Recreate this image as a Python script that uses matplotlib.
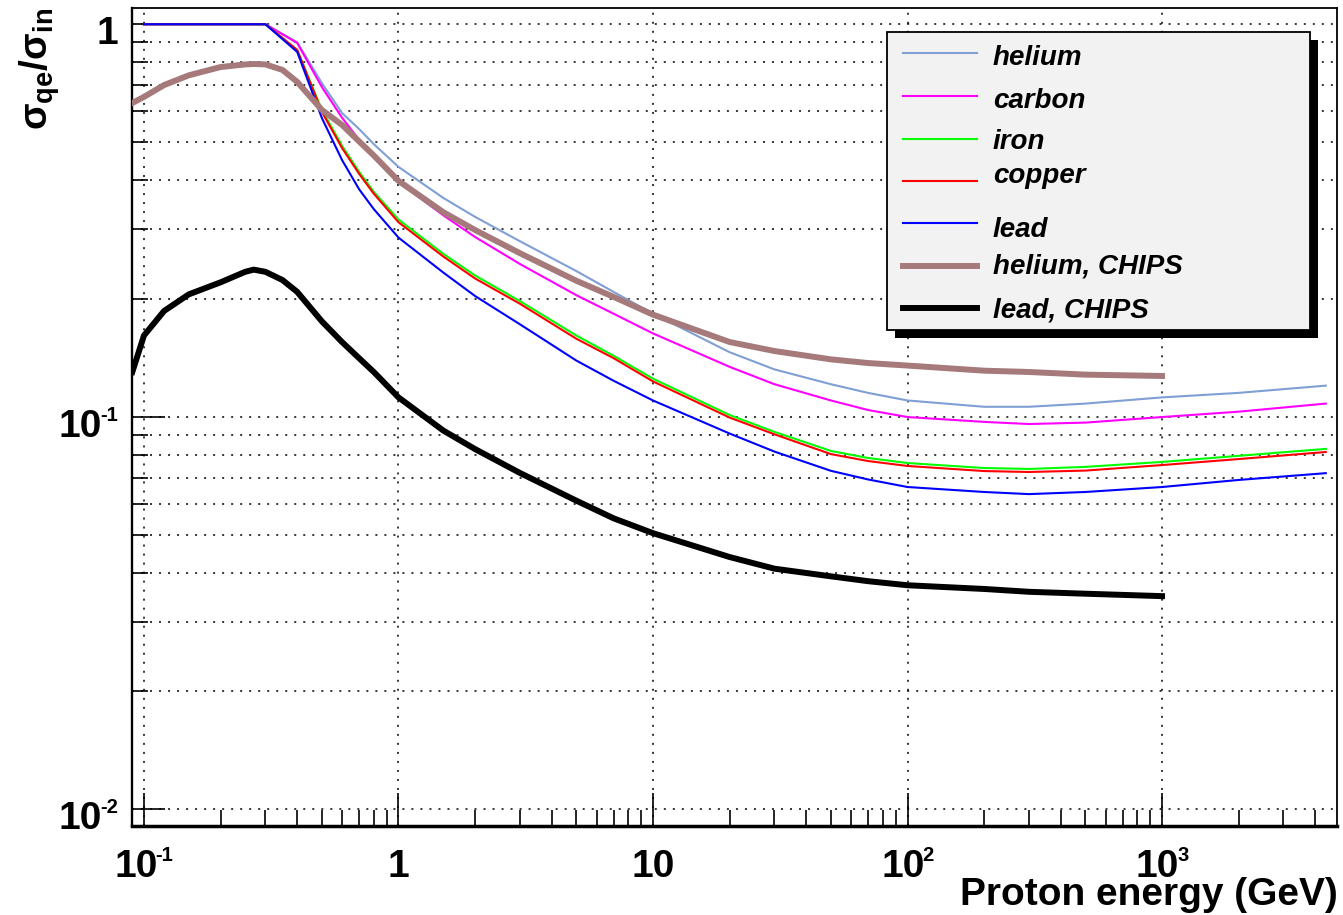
import numpy as np
import matplotlib
matplotlib.use("Agg")
import matplotlib.pyplot as plt
from matplotlib.lines import Line2D
from matplotlib.patches import Rectangle
from matplotlib.ticker import LogLocator, NullFormatter

plt.rcParams['font.family'] = ['Liberation Sans', 'DejaVu Sans']
plt.rcParams['mathtext.fontset'] = 'custom'
plt.rcParams['mathtext.rm'] = 'Liberation Sans:bold'
plt.rcParams['mathtext.bf'] = 'Liberation Sans:bold'
plt.rcParams['mathtext.it'] = 'Liberation Sans:bold:italic'
plt.rcParams['mathtext.default'] = 'bf'

# ---------------- data ----------------
energy = [0.1, 0.2, 0.3, 0.4, 0.5, 0.6, 0.7, 0.8, 1, 1.5, 2, 3, 5, 7, 10, 20, 30, 50,
          70, 100, 200, 300, 500, 1000, 2000, 4400]
helium = [1.0, 1.0, 1.0, 0.90, 0.708, 0.594, 0.541, 0.495, 0.433, 0.361, 0.323, 0.280,
          0.235, 0.208, 0.183, 0.146, 0.132, 0.121, 0.115, 0.110, 0.106, 0.106, 0.108,
          0.112, 0.115, 0.120]
carbon = [1.0, 1.0, 1.0, 0.896, 0.692, 0.578, 0.508, 0.463, 0.396, 0.326, 0.287, 0.245,
          0.204, 0.183, 0.163, 0.134, 0.121, 0.110, 0.104, 0.0998, 0.097, 0.0958, 0.0966,
          0.0998, 0.103, 0.108]
iron = [1.0, 1.0, 1.0, 0.86, 0.605, 0.490, 0.421, 0.374, 0.318, 0.260, 0.229, 0.197,
        0.161, 0.143, 0.125, 0.101, 0.0915, 0.0818, 0.0785, 0.0762, 0.074, 0.0736, 0.0745,
        0.0767, 0.0795, 0.0828]
copper = [1.0, 1.0, 1.0, 0.86, 0.598, 0.484, 0.416, 0.370, 0.313, 0.256, 0.225, 0.194,
          0.158, 0.141, 0.123, 0.0995, 0.0902, 0.0803, 0.0771, 0.0749, 0.0727, 0.0723,
          0.0729, 0.0753, 0.0780, 0.0813]
lead = [1.0, 1.0, 1.0, 0.85, 0.577, 0.451, 0.380, 0.338, 0.286, 0.233, 0.203, 0.172,
        0.139, 0.1235, 0.110, 0.0906, 0.0815, 0.0728, 0.0692, 0.0662, 0.0643, 0.0635,
        0.0643, 0.0662, 0.069, 0.0718]

energy_chips = [0.09, 0.1, 0.12, 0.15, 0.2, 0.25, 0.27, 0.3, 0.35, 0.4, 0.5, 0.6, 0.7, 0.8,
                1, 1.5, 2, 3, 5, 7, 10, 20, 30, 50, 70, 100, 200, 300, 500, 1000]
helium_chips = [0.630, 0.653, 0.700, 0.741, 0.778, 0.790, 0.792, 0.790, 0.765, 0.713,
                0.605, 0.554, 0.503, 0.463, 0.399, 0.332, 0.299, 0.261, 0.222, 0.202,
                0.182, 0.155, 0.147, 0.140, 0.137, 0.135, 0.131, 0.130, 0.128, 0.127]
lead_chips = [0.130, 0.161, 0.186, 0.205, 0.220, 0.234, 0.237, 0.234, 0.223, 0.208,
              0.175, 0.155, 0.141, 0.130, 0.112, 0.0922, 0.0827, 0.0719, 0.0611, 0.0551,
              0.0505, 0.0439, 0.0410, 0.0392, 0.0381, 0.0372, 0.0364, 0.0358, 0.0354,
              0.0349]

labels = ["helium", "carbon", "iron", "copper", "lead", "helium, CHIPS", "lead, CHIPS"]
x_tick_values = [0.1, 1, 10, 100, 1000]
x_tick_bases = ['10', '1', '10', '10', '10']
x_tick_exps = ['-1', '', '', '2', '3']
y_tick_values = [1, 0.1, 0.01]
y_tick_bases = ['1', '10', '10']
y_tick_exps = ['', '-1', '-2']

# ---------------- styles ----------------
colors = ['#7f9fd5', '#ff00ff', '#00ff00', '#ff0000', '#0000ff', '#a67a7a', '#000000']
widths = [1.5, 1.5, 1.5, 1.5, 1.5, 4.3, 4.3]
FS = 28

W, H = 1343, 915
def fx(px):
    return px / W
def fy(py):
    return 1 - py / H

fig = plt.figure(figsize=(W / 100, H / 100), dpi=100)
ax = fig.add_axes([fx(131.7), fy(826), (1337 - 131.7) / W, (826 - 8) / H])
ax.set_xscale('log')
ax.set_yscale('log')
ax.set_xlim(0.0895, 4870)
ax.set_ylim(0.00906, 1.10)

series = [(energy, helium), (energy, carbon), (energy, iron), (energy, copper),
          (energy, lead), (energy_chips, helium_chips), (energy_chips, lead_chips)]
for (xs, ys), c, lw in zip(series, colors, widths):
    ax.plot(xs, ys, color=c, lw=lw, solid_joinstyle='round', zorder=3)

# grid
dots = (0, (1.3, 4.6))
ax.xaxis.set_major_locator(LogLocator(base=10, numticks=20))
ax.xaxis.set_minor_locator(LogLocator(base=10, subs=np.arange(2, 10), numticks=20))
ax.yaxis.set_major_locator(LogLocator(base=10, numticks=20))
ax.yaxis.set_minor_locator(LogLocator(base=10, subs=np.arange(2, 10), numticks=20))
for axis in (ax.xaxis, ax.yaxis):
    axis.set_major_formatter(NullFormatter())
    axis.set_minor_formatter(NullFormatter())
ax.grid(True, which='major', axis='x', color='black', lw=1.1, linestyle=dots, zorder=1)
ax.grid(True, which='both', axis='y', color='black', lw=1.1, linestyle=dots, zorder=1)
ax.set_axisbelow(True)

ax.tick_params(which='major', direction='in', length=24, width=1.2, top=False, right=False,
               labelbottom=False, labelleft=False)
ax.tick_params(which='minor', direction='in', length=11.5, width=1.2, top=False, right=False)

ax.spines['left'].set_linewidth(1.7)
ax.spines['bottom'].set_linewidth(2.5)
ax.spines['top'].set_linewidth(1.3)
ax.spines['right'].set_linewidth(1.3)

# ---------------- tick labels (ROOT style 10^n) ----------------
renderer = fig.canvas.get_renderer()

def power_label(xpx, base_y, base, exp, align):
    t1 = fig.text(0, 0, base, fontsize=FS, fontweight='bold', ha='left', va='baseline')
    w1 = t1.get_window_extent(renderer).width
    t2 = None
    w2 = 0
    gap = -2
    if exp:
        t2 = fig.text(0, 0, exp, fontsize=FS * 0.52, fontweight='bold', ha='left',
                      va='baseline')
        w2 = t2.get_window_extent(renderer).width + gap
    total = w1 + w2
    left = xpx - total / 2 if align == 'center' else xpx - total
    t1.set_position((left / W, fy(base_y)))
    if t2 is not None:
        t2.set_position(((left + w1 + gap) / W, fy(base_y - 16)))

for v, b, e in zip(x_tick_values, x_tick_bases, x_tick_exps):
    xd = ax.transData.transform((v, 1))[0]
    power_label(xd, 877, b, e, 'center')
for v, b, e in zip(y_tick_values, y_tick_bases, y_tick_exps):
    yd = H - ax.transData.transform((1, v))[1]
    power_label(118, yd + 20, b, e, 'right')

# axis titles
fig.text(fx(40), fy(8), r'$\sigma_{qe}/\sigma_{in}$', rotation=90, ha='center', va='top',
         fontsize=28)
fig.text(fx(1338), fy(905), 'Proton energy (GeV)', ha='right', va='baseline',
         fontsize=28, fontweight='bold')

# ---------------- legend (drawn manually, ROOT TLegend style) ----------------
fig.add_artist(Rectangle((fx(895), fy(338)), (1318 - 895) / W, (338 - 40) / H,
                         transform=fig.transFigure, facecolor='black', edgecolor='none',
                         zorder=5))
fig.add_artist(Rectangle((fx(887), fy(330)), (1310 - 887) / W, (330 - 32) / H,
                         transform=fig.transFigure, facecolor='#f2f2f2', edgecolor='black',
                         lw=1.3, zorder=6))
line_y = [53, 96, 139, 181, 223, 266, 308]
text_y = [65, 108, 149, 183, 237, 273, 317]
for lab, c, lw, ly, ty in zip(labels, colors, widths, line_y, text_y):
    fig.add_artist(Line2D([fx(903), fx(977)], [fy(ly), fy(ly)], transform=fig.transFigure,
                          color=c, lw=lw, zorder=7))
    fig.text(fx(993), fy(ty), lab, ha='left', va='baseline', fontsize=20,
             fontweight='bold', fontstyle='italic', zorder=7)

fig.savefig('out.png', dpi=100)
